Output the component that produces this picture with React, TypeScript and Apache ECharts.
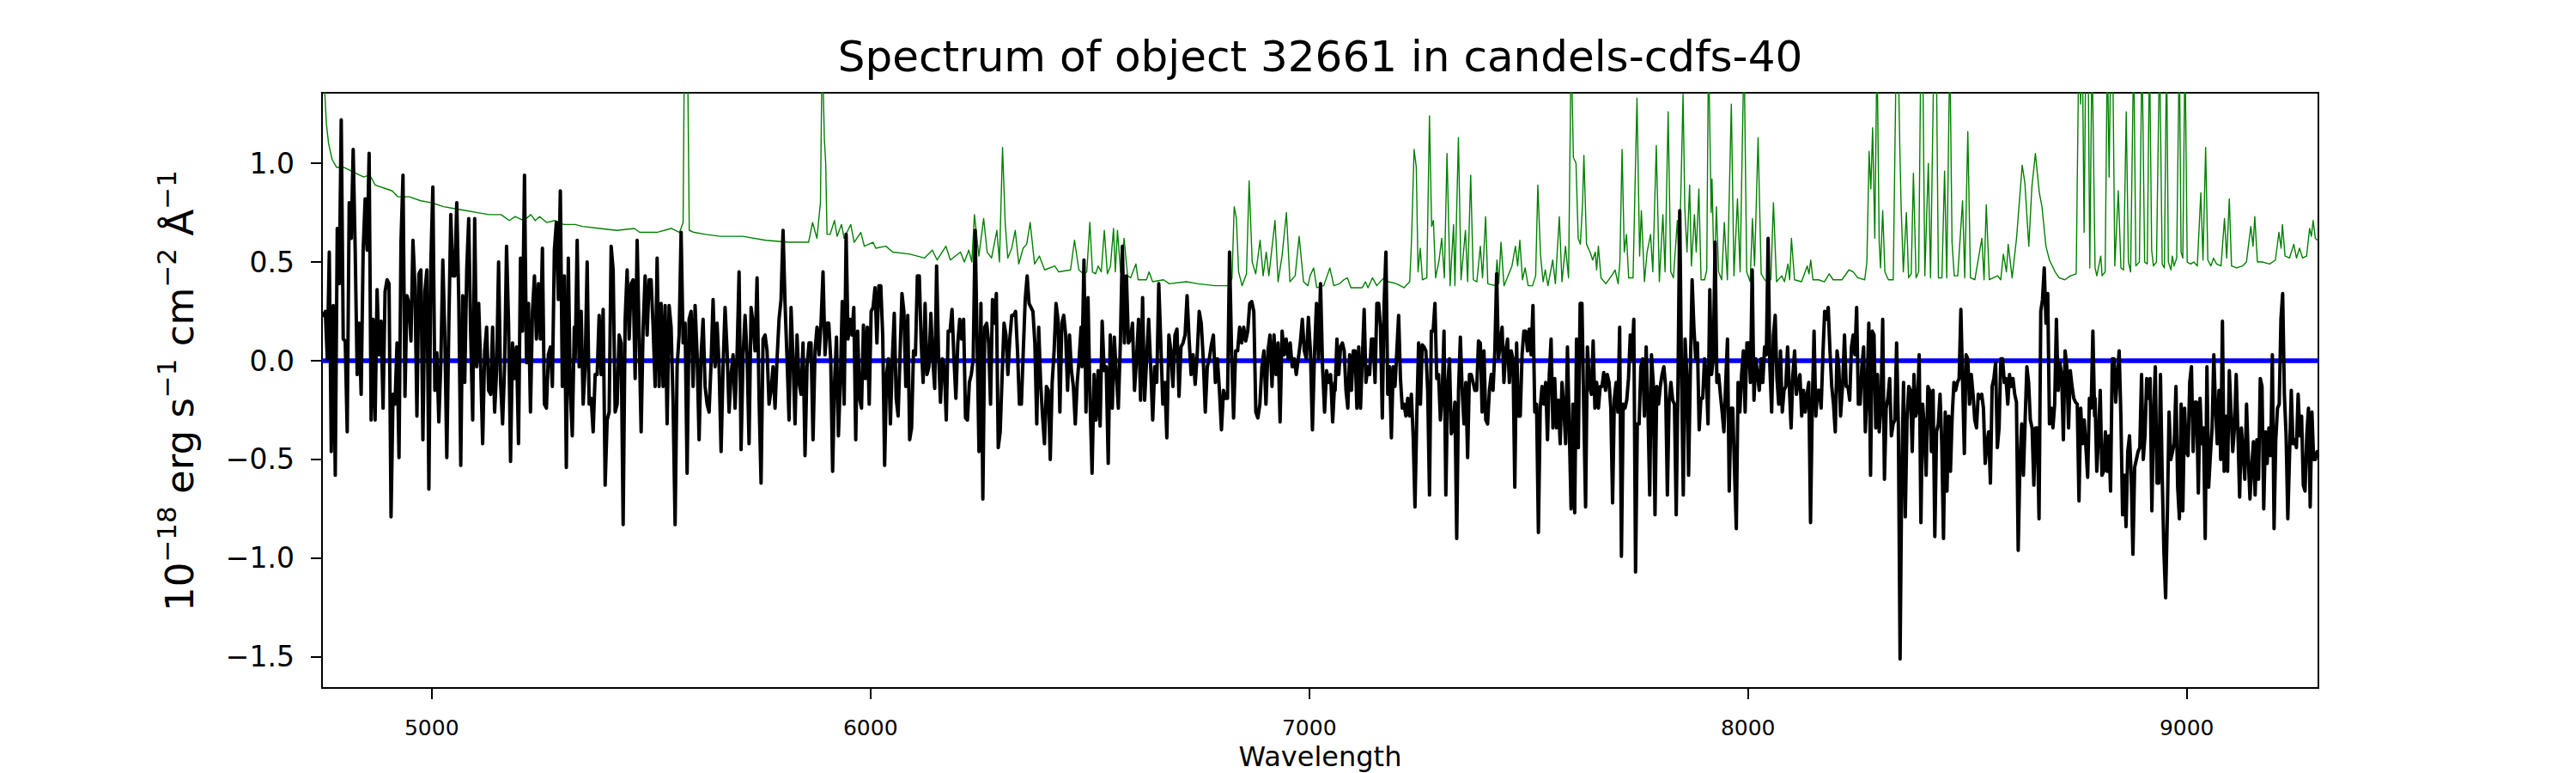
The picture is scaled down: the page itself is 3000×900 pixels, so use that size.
import React, { useEffect, useRef } from "react";
import * as echarts from "echarts";

const FONT = '"DejaVu Sans", "Liberation Sans", sans-serif';
const TITLE = "Spectrum of object 32661 in candels-cdfs-40";
const X_LABEL = "Wavelength";
const X_TICKS = [5000, 6000, 7000, 8000, 9000];
const Y_TICKS = [-1.5, -1.0, -0.5, 0, 0.5, 1.0];
const X_MIN = 4750;
const X_MAX = 9300;
const Y_MIN = -1.657;
const Y_MAX = 1.357;

// Observed flux (black), read piecewise; each piece spans the given wavelength range
const fluxSegmentRanges = [
  [4753, 5325], [5327, 5901], [5905, 6480], [6482, 7058],
  [7059, 7634], [7635, 8211], [8212, 8790], [8791, 9297],
];
const flux1 = [0.23,0.25,0.01,0.55,-0.46,0.28,-0.58,0.67,0.39,1.22,0.11,0.10,-0.36,0.80,0.62,1.07,0.56,-0.07,0.19,-0.17,0.56,0.82,0.56,1.05,-0.30,0.21,-0.30,0.36,0.03,0.20,-0.24,0.35,0.41,0.39,-0.79,-0.17,-0.22,0.09,-0.49,0.60,0.94,-0.18,0.33,0.29,0.10,0.61,0.38,-0.28,0.44,0.46,-0.40,0.35,0.46,-0.65,0.50,0.88,-0.15,0.04,-0.31,-0.01,0.51,0.13,-0.49,0.17,0.74,0.43,0.43,0.80,0.31,-0.53,0.33,-0.11,0.46,0.72,0.13,-0.30,0.72,-0.03,0.29,-0.03,-0.42,0.05,0.17,-0.15,-0.17,0.17,-0.26,-0.05,0.50,-0.11,-0.32,-0.03,0.58,0.19,-0.51,0.09,-0.09,0.07,-0.42,0.52,0.15,0.94,-0.01,0.29,-0.26,0.25,0.43,0.11,0.39,0.11,0.57,-0.22,-0.24,0.03,0.07,-0.13,0.56,0.70,0.31,0.86,-0.13,0.43,-0.54,0.52,-0.15,-0.38,0.17];
const flux2 = [0.01,0.61,-0.03,0.25,-0.22,-0.03,0.50,-0.22,-0.19,-0.36,-0.07,-0.07,0.23,-0.07,0.26,-0.63,-0.30,-0.26,0.58,0.46,-0.26,-0.22,0.13,0.09,-0.83,0.21,0.46,0.11,0.39,0.41,-0.09,0.61,0.13,-0.36,0.17,0.43,0.13,0.41,0.41,0.17,-0.13,0.52,-0.13,0.29,-0.13,0.28,-0.32,0.28,0.17,-0.22,-0.83,-0.03,0.13,0.65,0.09,0.19,-0.57,0.21,0.25,-0.13,0.28,0.03,-0.40,0.03,0.21,-0.13,-0.22,-0.26,-0.01,0.31,-0.03,0.19,-0.03,-0.46,-0.03,0.27,0.05,-0.26,-0.07,0.03,-0.24,0.03,0.45,-0.45,0.03,0.23,0.03,-0.42,0.27,0.19,0.05,0.42,-0.19,-0.62,0.11,0.13,0.05,-0.22,-0.15,-0.03,-0.24,0.01,0.21,0.31,0.66,0.29,0.01,-0.30,0.27,0.01,-0.32,0.13,-0.11,-0.17,0.09,-0.48,-0.03,0.09,0.09,-0.40,0.05,0.17,0.03,0.19,0.45,0.03,0.19];
const flux3 = [0.19,0.01,-0.56,-0.11,0.12,-0.38,-0.11,0.30,-0.22,0.64,0.11,0.21,0.13,0.27,-0.40,0.15,-0.19,-0.24,0.18,-0.09,0.17,-0.22,0.25,0.27,0.37,0.09,0.38,0.38,0.13,-0.53,-0.07,0.01,-0.32,0.01,0.24,-0.19,-0.28,0.03,0.34,0.25,-0.13,0.23,-0.40,-0.34,0.05,0.03,0.43,0.43,0.09,-0.11,0.29,-0.07,-0.03,0.24,0.01,-0.14,0.48,0.03,-0.21,0.01,-0.03,-0.30,0.15,0.15,0.26,0.01,-0.19,0.09,0.21,0.11,0.21,-0.29,-0.30,-0.11,-0.07,0.01,0.66,0.11,-0.46,0.29,-0.70,0.17,0.19,0.09,-0.22,0.31,0.19,0.34,-0.44,-0.36,-0.08,0.19,0.13,-0.07,0.11,0.23,0.23,0.25,0.05,-0.22,-0.22,0.05,0.31,0.43,0.29,0.27,0.25,0.09,-0.32,0.17,-0.11,-0.28,-0.42,-0.13,-0.15,-0.50,-0.11,0.05,0.29,0.21,-0.26,0.19,0.23,0.13,-0.15,0.13,-0.05,-0.13,-0.32,-0.11,0.01,0.17];
const flux4 = [-0.03,0.51,-0.26,0.32,-0.20,-0.57,-0.07,-0.30,-0.05,-0.33,0.20,-0.05,-0.03,-0.52,0.13,-0.24,0.12,-0.07,-0.24,0.09,0.58,0.09,0.43,0.09,0.11,0.19,-0.15,0.01,0.21,-0.20,0.32,-0.20,0.01,0.21,-0.03,-0.30,-0.03,-0.11,0.39,0.09,-0.22,-0.11,-0.39,0.13,0.05,-0.13,0.13,0.16,-0.18,0.07,0.09,0.13,0.33,0.11,-0.07,0.03,-0.12,0.03,0.25,0.19,0.01,-0.26,-0.03,0.01,0.08,0.13,-0.11,0.01,-0.15,-0.35,-0.15,-0.19,-0.19,0.55,0.05,-0.29,0.05,0.05,0.17,0.09,0.17,0.10,0.15,0.29,0.30,0.25,-0.26,-0.29,-0.22,-0.03,0.05,-0.22,0.05,0.13,-0.13,0.13,-0.07,0.09,-0.31,0.15,0.03,0.11,0.01,0.09,-0.03,0.01,-0.07,0.01,0.09,0.21,0.05,0.01,0.22,0.05,-0.35,0.03,0.29,0.01,0.39,-0.03,-0.26,-0.05,-0.11,-0.07,-0.31,-0.11];
const flux5 = [-0.15,0.11,-0.07,0.07,0.09,0.05,-0.15,-0.24,0.03,-0.15,0.05,0.05,-0.24,0.07,-0.24,0.01,0.26,-0.11,-0.03,-0.07,0.11,0.11,-0.11,0.29,0.29,0.17,-0.29,0.29,0.55,-0.17,-0.03,-0.39,-0.03,-0.13,0.05,0.23,-0.09,-0.24,-0.22,-0.28,-0.19,-0.28,-0.17,-0.38,-0.74,-0.28,0.09,-0.22,0.08,0.07,0.05,-0.15,-0.68,0.15,0.15,0.29,-0.09,-0.07,-0.30,-0.17,0.15,-0.68,-0.13,0.01,-0.37,-0.34,-0.21,-0.90,-0.15,0.12,-0.15,-0.32,-0.11,-0.49,-0.07,-0.07,-0.11,-0.15,-0.15,0.10,0.09,-0.26,0.05,-0.30,-0.32,-0.15,-0.07,-0.15,0.05,0.44,0.01,0.09,0.17,-0.11,0.05,0.11,-0.11,0.05,0.01,-0.64,0.09,-0.28,-0.28,0.03,0.15,0.15,0.05,0.16,0.03,0.28,-0.26,-0.22,-0.87,-0.24,-0.13,-0.22,-0.11,-0.40,-0.07,0.11,-0.34,-0.09,-0.34,-0.20,-0.42,-0.11,-0.24,-0.42,0.07,-0.34,-0.75,-0.22,-0.77,0.11,-0.44,0.29,0.29,-0.26,-0.74,0.07];
const flux6 = [0.07,-0.13,-0.17,0.10,-0.24,-0.11,-0.24,-0.13,-0.13,-0.06,-0.15,-0.07,-0.11,-0.24,-0.72,-0.19,-0.11,-0.26,0.17,-0.99,-0.22,-0.24,-0.20,-0.09,0.13,0.01,0.21,-1.07,-0.32,-0.32,-0.03,0.01,-0.28,0.07,-0.24,-0.68,0.03,-0.11,-0.78,-0.13,-0.22,-0.13,-0.07,-0.03,-0.13,-0.68,-0.20,-0.11,-0.20,-0.22,-0.78,-0.11,0.76,-0.07,-0.68,0.11,-0.07,-0.58,-0.05,0.41,0.17,0.01,0.09,-0.35,-0.19,-0.19,0.01,-0.07,-0.32,0.36,-0.07,0.01,0.60,-0.11,-0.07,-0.17,-0.26,-0.36,-0.11,0.11,-0.66,-0.24,-0.24,-0.56,-0.85,-0.11,-0.26,-0.07,0.05,-0.26,0.09,0.09,-0.11,0.46,-0.20,0.01,-0.07,-0.15,0.01,-0.11,0.07,0.03,0.62,-0.03,-0.26,0.13,0.23,-0.09,-0.22,0.05,-0.26,-0.15,-0.13,0.07,-0.13,-0.34,-0.07,0.05,-0.17,-0.11,-0.07,-0.28,-0.15,-0.26,-0.17,-0.11,-0.82,-0.22,0.15,-0.28,-0.15,-0.15,-0.24,0.03,0.25,0.21,0.27,0.05,-0.13,-0.22,-0.36,0.05,-0.03,-0.28];
const flux7 = [-0.28,-0.11,0.13,-0.13,-0.13,-0.20,0.07,0.13,0.03,0.27,-0.22,-0.22,-0.03,0.07,-0.36,-0.15,0.19,-0.58,0.15,0.13,-0.34,-0.07,-0.36,-0.22,0.21,-0.60,-0.24,-0.19,-0.09,-0.38,-0.32,-0.30,0.09,-0.32,-1.51,-0.54,-0.11,-0.79,-0.30,-0.13,-0.15,-0.46,-0.07,-0.28,-0.24,0.03,-0.82,-0.22,-0.34,-0.58,-0.13,-0.15,-0.46,-0.15,-0.89,-0.36,-0.32,-0.17,-0.42,-0.90,-0.26,-0.66,-0.28,-0.56,-0.28,-0.11,-0.15,-0.11,-0.09,0.26,-0.11,-0.47,0.03,0.01,-0.22,-0.07,-0.17,-0.30,-0.34,-0.17,-0.19,-0.17,-0.24,-0.52,-0.42,-0.36,-0.62,-0.13,-0.09,-0.01,-0.44,-0.34,0.01,0.01,-0.11,-0.09,-0.22,-0.07,-0.13,-0.09,-0.17,-0.21,-0.96,-0.52,-0.32,-0.58,-0.30,-0.03,-0.11,-0.30,-0.34,-0.63,-0.34,-0.34,-0.80,0.25,0.31,0.47,0.19,0.34,-0.32,-0.24,-0.34,-0.22,0.21,-0.15,-0.01,-0.07,-0.40,0.05,-0.03,-0.34,-0.05,-0.13,-0.19,-0.21,-0.22,-0.71,-0.24,-0.42,-0.30,-0.44,-0.59,-0.19,-0.24,0.15,-0.28];
const flux8 = [-0.19,-0.56,-0.38,-0.15,-0.58,-0.56,-0.36,-0.56,-0.38,-0.66,0.01,0.01,-0.21,-0.07,0.05,-0.28,-0.78,-0.58,-0.84,-0.46,-0.38,-0.58,-0.98,-0.54,-0.50,-0.46,-0.44,-0.07,-0.50,-0.38,-0.09,-0.19,-0.09,-0.76,-0.28,-0.03,-0.62,-0.62,-0.07,-0.58,-0.97,-1.20,-0.78,-0.26,-0.50,-0.46,-0.42,-0.13,-0.64,-0.80,-0.22,-0.76,-0.24,-0.46,-0.48,-0.11,-0.03,-0.46,-0.21,-0.21,-0.67,-0.19,-0.42,-0.34,-0.90,-0.03,-0.64,-0.48,-0.34,0.03,-0.24,-0.42,-0.15,-0.50,0.20,-0.56,-0.28,-0.56,-0.05,-0.26,-0.46,-0.34,-0.07,-0.36,-0.69,-0.34,-0.46,-0.60,-0.22,-0.48,-0.70,-0.54,-0.41,-0.68,-0.40,-0.60,-0.09,-0.13,-0.75,-0.36,-0.52,-0.34,-0.48,0.03,-0.85,-0.40,-0.24,-0.22,0.21,0.34,-0.17,-0.38,-0.80,-0.48,-0.15,-0.42,-0.40,-0.44,-0.17,-0.38,-0.28,-0.63,-0.66,-0.38,-0.24,-0.74,-0.26,-0.50,-0.50,-0.46];
const fluxSegments = [flux1, flux2, flux3, flux4, flux5, flux6, flux7, flux8];

// Error / sky spectrum (green): [wavelength, value]
const errorSpectrum = [
  [4752,1.55],[4757,1.33],[4760,1.20],[4765,1.10],[4773,1.02],[4783,0.98],[4799,0.98],[4818,0.96],[4845,0.93],[4858,0.94],[4864,0.92],[4871,0.89],[4897,0.87],[4910,0.86],[4923,0.83],[4949,0.83],[4975,0.81],[5001,0.80],[5027,0.78],[5053,0.77],[5079,0.76],[5105,0.75],[5131,0.74],[5158,0.74],[5177,0.71],[5190,0.73],[5210,0.71],[5226,0.74],[5236,0.71],[5246,0.73],[5262,0.70],[5281,0.71],[5301,0.69],[5327,0.69],
  [5344,0.68],[5383,0.67],[5422,0.66],[5462,0.67],[5474,0.65],[5513,0.65],[5546,0.67],[5565,0.65],[5573,0.70],[5576,1.6],[5583,1.6],[5587,0.66],[5598,0.65],[5624,0.64],[5657,0.63],[5709,0.63],[5761,0.61],[5813,0.60],[5859,0.60],[5868,0.70],[5878,0.62],[5886,0.80],[5890,1.6],[5895,1.12],[5898,1.0],[5901,0.64],
  [5908,0.64],[5918,0.71],[5924,0.63],[5934,0.69],[5940,0.62],[5955,0.69],[5963,0.60],[5978,0.65],[5986,0.58],[6006,0.60],[6012,0.57],[6035,0.58],[6051,0.55],[6090,0.54],[6123,0.52],[6141,0.56],[6152,0.51],[6172,0.58],[6182,0.51],[6205,0.55],[6214,0.50],[6224,0.56],[6231,0.50],[6237,0.74],[6247,0.53],[6258,0.72],[6266,0.55],[6276,0.52],[6288,0.66],[6294,0.50],[6301,1.08],[6307,0.70],[6313,0.52],[6322,0.57],[6330,0.66],[6338,0.49],[6348,0.57],[6356,0.59],[6364,0.70],[6374,0.49],[6385,0.53],[6397,0.46],[6420,0.48],[6429,0.45],[6456,0.46],[6465,0.61],[6475,0.46],
  [6485,0.44],[6493,0.45],[6500,0.70],[6506,0.45],[6513,0.44],[6519,0.48],[6526,0.45],[6533,0.66],[6540,0.44],[6547,0.48],[6554,0.67],[6558,0.45],[6563,0.66],[6570,0.45],[6578,0.62],[6586,0.43],[6593,0.42],[6605,0.49],[6610,0.41],[6629,0.41],[6635,0.45],[6643,0.40],[6668,0.41],[6681,0.39],[6720,0.40],[6746,0.39],[6785,0.38],[6818,0.38],[6824,0.42],[6829,0.78],[6834,0.72],[6839,0.45],[6847,0.38],[6857,0.44],[6863,0.91],[6870,0.50],[6878,0.44],[6888,0.61],[6895,0.43],[6902,0.55],[6908,0.43],[6914,0.55],[6922,0.71],[6929,0.40],[6938,0.53],[6948,0.75],[6956,0.40],[6968,0.43],[6977,0.63],[6987,0.40],[6997,0.38],[7002,0.43],[7010,0.47],[7017,0.37],[7033,0.38],[7047,0.47],[7056,0.38],
  [7069,0.39],[7079,0.41],[7087,0.42],[7095,0.37],[7121,0.37],[7128,0.40],[7134,0.37],[7144,0.42],[7154,0.38],[7170,0.42],[7180,0.40],[7199,0.39],[7216,0.37],[7229,0.40],[7233,0.60],[7239,1.07],[7244,0.98],[7248,0.45],[7253,0.57],[7258,0.41],[7268,0.42],[7274,1.24],[7279,0.68],[7283,0.71],[7288,0.42],[7296,0.51],[7302,0.62],[7308,0.42],[7314,1.05],[7321,0.38],[7329,0.69],[7332,0.38],[7340,1.13],[7346,0.41],[7356,0.66],[7361,0.40],[7368,0.94],[7374,0.41],[7382,0.40],[7390,0.58],[7395,0.42],[7402,0.73],[7407,0.39],[7424,0.38],[7428,0.51],[7432,0.39],[7437,0.60],[7444,0.38],[7462,0.48],[7470,0.58],[7475,0.48],[7480,0.61],[7486,0.41],[7492,0.47],[7499,0.38],[7509,0.38],[7516,0.43],[7521,0.89],[7527,0.54],[7533,0.40],[7538,0.46],[7544,0.38],[7555,0.51],[7561,0.39],[7570,0.73],[7576,0.40],[7584,0.58],[7591,0.42],[7597,1.6],[7602,1.03],[7608,1.00],[7613,0.62],[7618,0.59],[7623,0.80],[7626,1.04],[7632,0.59],
  [7640,0.55],[7646,0.51],[7652,0.55],[7655,0.46],[7659,0.58],[7665,0.42],[7676,0.39],[7689,0.43],[7697,0.46],[7704,0.39],[7708,0.50],[7713,1.07],[7718,0.55],[7723,0.64],[7728,0.42],[7738,0.42],[7747,1.33],[7753,0.53],[7757,0.76],[7764,0.40],[7770,0.55],[7778,0.64],[7783,0.45],[7791,1.09],[7798,0.40],[7806,0.74],[7811,0.45],[7818,1.26],[7824,0.45],[7830,0.42],[7839,0.71],[7843,0.45],[7852,1.35],[7856,0.77],[7861,0.55],[7867,0.89],[7871,0.48],[7878,0.74],[7882,0.55],[7888,0.87],[7893,0.41],[7901,0.41],[7906,0.46],[7910,1.6],[7916,0.75],[7918,0.92],[7923,0.41],[7928,0.78],[7933,0.45],[7940,0.41],[7946,0.70],[7953,0.41],[7962,1.30],[7968,0.43],[7976,0.82],[7982,0.45],[7991,1.6],[7997,0.45],[8005,0.40],[8010,0.72],[8015,0.48],[8023,1.13],[8030,0.44],[8038,0.41],[8044,0.40],[8052,0.41],[8058,0.80],[8065,0.40],[8077,0.43],[8083,0.40],[8091,0.49],[8095,0.41],[8099,0.62],[8106,0.41],[8122,0.40],[8135,0.48],[8139,0.44],[8143,0.51],[8148,0.41],[8161,0.41],[8174,0.40],[8185,0.44],[8194,0.41],[8214,0.41],
  [8230,0.46],[8240,0.45],[8250,0.42],[8266,0.41],[8271,0.50],[8276,1.06],[8280,0.87],[8284,1.18],[8289,0.62],[8294,1.6],[8299,0.60],[8302,0.47],[8307,0.76],[8312,0.45],[8320,0.41],[8331,0.41],[8338,1.6],[8342,1.6],[8346,1.08],[8349,0.78],[8354,0.45],[8361,0.75],[8366,0.42],[8372,0.44],[8377,0.95],[8383,0.42],[8389,0.45],[8394,1.6],[8398,1.6],[8403,0.43],[8411,1.00],[8416,0.42],[8424,1.6],[8429,1.6],[8434,0.42],[8442,0.42],[8448,0.96],[8453,0.42],[8460,1.6],[8465,0.60],[8470,0.43],[8478,0.43],[8489,0.81],[8494,0.42],[8501,1.16],[8507,0.42],[8517,0.41],[8533,0.62],[8538,0.41],[8543,0.79],[8550,0.41],[8569,0.43],[8576,0.41],[8582,0.54],[8589,0.45],[8593,0.59],[8602,0.42],[8612,0.62],[8625,0.99],[8631,0.90],[8640,0.58],[8647,0.88],[8655,1.05],[8664,0.85],[8670,0.78],[8679,0.58],[8687,0.51],[8700,0.45],[8709,0.42],[8722,0.41],[8735,0.43],[8748,0.44],[8754,1.6],[8758,1.30],[8762,1.6],[8766,0.65],[8770,1.6],[8775,1.6],[8779,0.47],[8784,1.6],
  [8788,0.97],[8791,0.47],[8795,0.43],[8804,0.53],[8807,0.43],[8814,0.45],[8819,1.6],[8823,0.93],[8827,1.6],[8831,1.6],[8836,0.48],[8844,0.86],[8850,0.47],[8856,0.46],[8862,1.26],[8867,0.50],[8872,0.45],[8879,1.6],[8884,0.48],[8892,0.50],[8898,1.6],[8904,0.50],[8910,0.49],[8915,1.6],[8920,0.56],[8924,0.48],[8931,0.50],[8938,1.6],[8944,0.49],[8949,0.47],[8954,1.6],[8958,0.50],[8964,0.46],[8967,0.53],[8971,0.48],[8977,0.52],[8983,1.6],[8987,0.55],[8991,0.52],[8996,1.6],[9001,0.50],[9009,0.49],[9016,0.50],[9024,0.48],[9032,0.85],[9037,0.51],[9043,1.08],[9048,0.51],[9055,0.48],[9061,0.52],[9068,0.49],[9078,0.48],[9086,0.72],[9091,0.52],[9097,0.82],[9102,0.48],[9114,0.47],[9127,0.48],[9136,0.50],[9146,0.68],[9151,0.58],[9155,0.73],[9161,0.50],[9172,0.50],[9189,0.49],[9202,0.51],[9210,0.65],[9215,0.57],[9218,0.69],[9224,0.53],[9234,0.52],[9244,0.59],[9250,0.52],[9257,0.57],[9264,0.52],[9273,0.53],[9280,0.67],[9284,0.63],[9288,0.71],[9293,0.62],[9298,0.61],
];

// Model (blue) flat at zero
const modelWave = [4750, 9300];
const modelFlux = [0, 0];

function fmtY(v: number): string {
  const s = Math.abs(v).toFixed(1);
  return v < 0 ? "\u2212" + s : s;
}

export default function App() {
  const ref = useRef<HTMLDivElement>(null);

  useEffect(() => {
    document.body.style.margin = "0";
    if (!ref.current) return;
    const chart = echarts.init(ref.current, null, { renderer: "svg" });

    const fluxData: number[][] = [];
    fluxSegments.forEach((seg, k) => {
      const [a, b] = fluxSegmentRanges[k];
      seg.forEach((v, i) => {
        fluxData.push([a + ((b - a) * i) / (seg.length - 1), v]);
      });
    });
    const modelData = modelWave.map((w, i) => [w, modelFlux[i]]);

    const option: any = {
      animation: false,
      backgroundColor: "#ffffff",
      grid: {
        left: 375,
        right: 300,
        top: 108,
        bottom: 99,
        show: true,
        borderColor: "#000",
        borderWidth: 2,
        backgroundColor: "transparent",
        containLabel: false,
      },
      xAxis: {
        type: "value",
        min: X_MIN,
        max: X_MAX,
        axisLine: { show: true, onZero: false, lineStyle: { color: "#000", width: 2 } },
        axisTick: {
          show: true,
          inside: false,
          length: 13,
          customValues: X_TICKS,
          lineStyle: { color: "#000", width: 2 },
        },
        axisLabel: {
          customValues: X_TICKS,
          fontSize: 25,
          fontFamily: FONT,
          color: "#000",
          margin: 34,
          formatter: (v: number) => String(v),
        },
        splitLine: { show: false },
      },
      yAxis: {
        type: "value",
        min: Y_MIN,
        max: Y_MAX,
        axisLine: { show: true, onZero: false, lineStyle: { color: "#000", width: 2 } },
        axisTick: {
          show: true,
          inside: false,
          length: 13,
          customValues: Y_TICKS,
          lineStyle: { color: "#000", width: 2 },
        },
        axisLabel: {
          customValues: Y_TICKS,
          fontSize: 33,
          fontFamily: FONT,
          color: "#000",
          margin: 32,
          formatter: (v: number) => fmtY(v),
        },
        splitLine: { show: false },
      },
      series: [
        {
          type: "line",
          data: errorSpectrum,
          symbol: "none",
          showSymbol: false,
          clip: true,
          silent: true,
          z: 2,
          lineStyle: { color: "#008000", width: 1.4, join: "round" },
        },
        {
          type: "line",
          data: modelData,
          symbol: "none",
          showSymbol: false,
          clip: true,
          silent: true,
          z: 3,
          lineStyle: { color: "#0000ff", width: 5.5 },
        },
        {
          type: "line",
          data: fluxData,
          symbol: "none",
          showSymbol: false,
          clip: true,
          silent: true,
          sampling: undefined,
          z: 4,
          lineStyle: { color: "#000000", width: 4, join: "round", cap: "round" },
        },
      ],
      graphic: [
        {
          type: "text",
          x: 1537.5,
          y: 66,
          style: {
            text: TITLE,
            fontSize: 50,
            fontFamily: FONT,
            fill: "#000",
            align: "center",
            verticalAlign: "middle",
          },
        },
        {
          type: "text",
          x: 1537.5,
          y: 881,
          style: {
            text: X_LABEL,
            fontSize: 32,
            fontFamily: FONT,
            fill: "#000",
            align: "center",
            verticalAlign: "middle",
          },
        },
        {
          type: "text",
          x: 209,
          y: 455,
          rotation: Math.PI / 2,
          style: {
            text: "{m|10}{s|\u221218}{m| erg s}{s|\u22121}{m| cm}{s|\u22122}{m| \u00c5}{s|\u22121}",
            align: "center",
            verticalAlign: "middle",
            rich: {
              m: { fontSize: 45, fontFamily: FONT, fill: "#000", lineHeight: 61, verticalAlign: "middle" },
              s: { fontSize: 31, fontFamily: FONT, fill: "#000", lineHeight: 31, verticalAlign: "top" },
            },
          },
        },
      ],
    };

    chart.setOption(option);
    return () => {
      chart.dispose();
    };
  }, []);

  return <div ref={ref} style={{ width: 3000, height: 900 }} />;
}
